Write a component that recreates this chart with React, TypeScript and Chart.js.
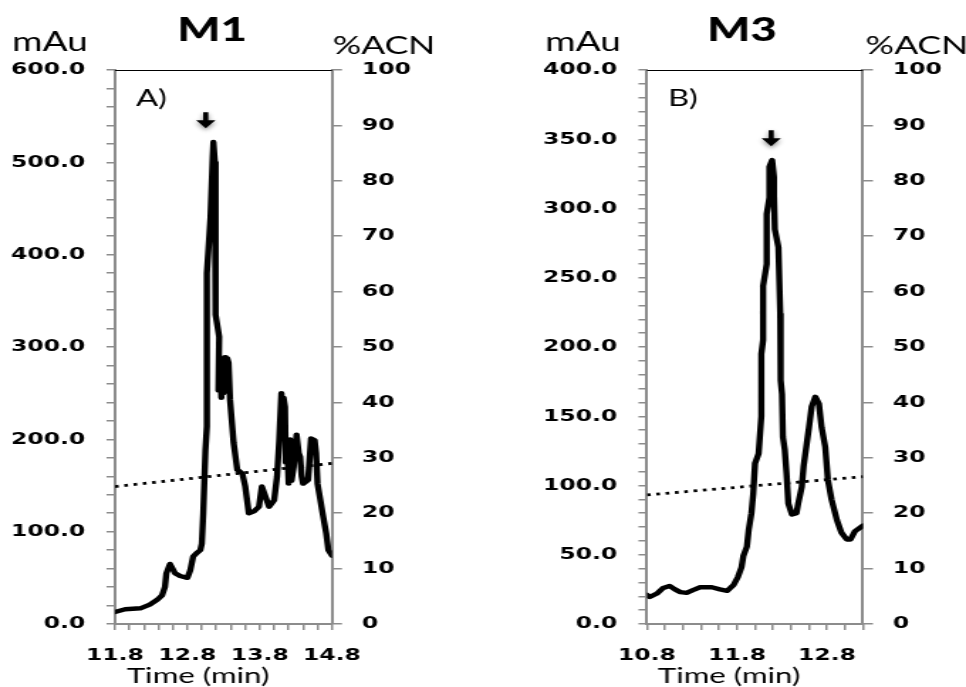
import React, { useEffect, useRef } from 'react';
import { Chart, registerables } from 'chart.js';

Chart.register(...registerables);

// ---------------- data: M1 ----------------
const m1Time = [
  11.8, 11.94, 12.15, 12.28, 12.38, 12.45, 12.49, 12.51, 12.56, 12.63, 12.7, 12.8, 12.84, 12.88, 12.93, 12.98,
  13.0, 13.02, 13.05, 13.07, 13.07, 13.12, 13.15, 13.16, 13.18, 13.19, 13.19, 13.24, 13.23, 13.26, 13.27, 13.29,
  13.3, 13.32, 13.33, 13.35, 13.37, 13.39, 13.44, 13.49, 13.56, 13.6, 13.65, 13.72, 13.79, 13.83, 13.88, 13.93,
  14.0, 14.04, 14.07, 14.1, 14.12, 14.13, 14.15, 14.16, 14.18, 14.2, 14.22, 14.24, 14.27, 14.31, 14.34, 14.36,
  14.38, 14.4, 14.47, 14.51, 14.56, 14.58, 14.6, 14.67, 14.72, 14.75, 14.8,
];
const m1Abs = [
  13, 16, 17, 21, 26, 31, 40, 55, 65, 55, 52, 50, 58, 73, 77, 80,
  87, 120, 188, 214, 380, 440, 505, 522, 500, 420, 335, 311, 253, 270, 245, 285,
  250, 289, 255, 288, 283, 243, 196, 167, 163, 149, 120, 122, 127, 149, 138, 127,
  134, 160, 199, 250, 220, 245, 235, 175, 195, 152, 200, 155, 170, 205, 185, 181,
  160, 152, 156, 201, 199, 185, 152, 120, 98, 80, 74,
];
const m1AcnTime = [11.8, 14.8];
const m1Acn = [24.8, 29.0];
const m1ArrowTime = [13.055];
const m1ArrowAbs = [537];
const m1XLabels = [11.8, 12.8, 13.8, 14.8];
const m1YLabels = [0, 100, 200, 300, 400, 500, 600];

// ---------------- data: M3 ----------------
const m3Time = [
  10.8, 10.83, 10.91, 10.98, 11.05, 11.11, 11.17, 11.24, 11.31, 11.39, 11.52, 11.61, 11.69, 11.76, 11.81, 11.85,
  11.87, 11.91, 11.93, 11.96, 11.98, 12.0, 12.04, 12.07, 12.07, 12.09, 12.09, 12.13, 12.13, 12.16, 12.16, 12.19,
  12.21, 12.21, 12.22, 12.26, 12.28, 12.28, 12.29, 12.3, 12.31, 12.33, 12.35, 12.37, 12.41, 12.46, 12.48, 12.52,
  12.54, 12.57, 12.6, 12.63, 12.67, 12.71, 12.74, 12.78, 12.81, 12.85, 12.91, 12.96, 13.02, 13.06, 13.11, 13.2,
];
const m3Abs = [
  21, 19.5, 22, 26, 27.5, 25, 23, 22.5, 24.5, 26.5, 26.5, 25, 24, 28, 34, 41,
  49, 56, 68, 80, 94, 116, 123, 150, 195, 205, 244, 260, 296, 308, 330, 335,
  323, 311, 285, 272, 224, 190, 176, 166, 135, 126, 109, 87, 79, 80, 87, 99,
  114, 128, 142, 157, 164, 159, 142, 128, 104, 90, 75, 66, 61, 61, 67, 71,
];
const m3AcnTime = [10.8, 13.2];
const m3Acn = [23.3, 26.6];
const m3ArrowTime = [12.18];
const m3ArrowAbs = [345];
const m3XLabels = [10.8, 11.8, 12.8];
const m3YLabels = [0, 50, 100, 150, 200, 250, 300, 350, 400];

const acnLabels = [0, 10, 20, 30, 40, 50, 60, 70, 80, 90, 100];

// ---------------- layout ----------------
const HALF_W = 483;
const H = 687;
const CANVAS_W = 340; // drawn narrower, then stretched horizontally like the original picture
const SX = HALF_W / CANVAS_W;
const FONT = 'Lato, "Open Sans", "DejaVu Sans", sans-serif';
const TICK_FONT = '"DejaVu Sans", Verdana, sans-serif';
const AXIS_GREY = '#8c8c8c';

type Panel = {
  key: string;
  title: string;
  tag: string;
  time: number[];
  abs: number[];
  acnTime: number[];
  acn: number[];
  arrowTime: number[];
  arrowAbs: number[];
  xLabels: number[];
  yLabels: number[];
  xMin: number;
  xMax: number;
  yMax: number;
  yStep: number;
  areaLeft: number;
  areaRight: number;
  txt: { mAu: number; title: number; acn: number; tag: number; time: number };
};

const panels: Panel[] = [
  {
    key: 'm1', title: 'M1', tag: 'A)',
    time: m1Time, abs: m1Abs, acnTime: m1AcnTime, acn: m1Acn,
    arrowTime: m1ArrowTime, arrowAbs: m1ArrowAbs,
    xLabels: m1XLabels, yLabels: m1YLabels,
    xMin: 11.8, xMax: 14.8, yMax: 600, yStep: 20,
    areaLeft: 115, areaRight: 332,
    txt: { mAu: 50, title: 212, acn: 384, tag: 136, time: 198 },
  },
  {
    key: 'm3', title: 'M3', tag: 'B)',
    time: m3Time, abs: m3Abs, acnTime: m3AcnTime, acn: m3Acn,
    arrowTime: m3ArrowTime, arrowAbs: m3ArrowAbs,
    xLabels: m3XLabels, yLabels: m3YLabels,
    xMin: 10.8, xMax: 13.2, yMax: 400, yStep: 10,
    areaLeft: 164, areaRight: 380,
    txt: { mAu: 100, title: 259, acn: 434, tag: 185, time: 246 },
  },
];

const near = (list: number[], v: number) => list.some((l) => Math.abs(l - v) < 1e-6);

function makeDecor(p: Panel) {
  return {
    id: 'decor_' + p.key,
    afterDatasetsDraw(chart: any) {
      const { ctx, chartArea, scales } = chart;
      ctx.save();
      ctx.strokeStyle = '#000';
      ctx.lineWidth = 1;
      ctx.beginPath();
      ctx.moveTo(chartArea.left, chartArea.top + 0.5);
      ctx.lineTo(chartArea.right, chartArea.top + 0.5);
      ctx.stroke();

      const ax = scales.x.getPixelForValue(p.arrowTime[0]);
      const ay = scales.y.getPixelForValue(p.arrowAbs[0]);
      ctx.shadowColor = 'rgba(0,0,0,0.45)';
      ctx.shadowBlur = 4;
      ctx.shadowOffsetY = 2;
      ctx.fillStyle = '#000';
      ctx.beginPath();
      ctx.moveTo(ax - 1.8, ay - 16);
      ctx.lineTo(ax + 1.8, ay - 16);
      ctx.lineTo(ax + 1.8, ay - 8);
      ctx.lineTo(ax + 6.8, ay - 8);
      ctx.lineTo(ax, ay);
      ctx.lineTo(ax - 6.8, ay - 8);
      ctx.lineTo(ax - 1.8, ay - 8);
      ctx.closePath();
      ctx.fill();
      ctx.restore();
    },
    afterDraw(chart: any) {
      const { ctx } = chart;
      ctx.save();
      ctx.fillStyle = '#000';
      ctx.textBaseline = 'alphabetic';
      ctx.textAlign = 'center';
      ctx.font = `400 26px ${FONT}`;
      ctx.fillText('mAu', p.txt.mAu / SX, 51);
      ctx.font = `400 25px ${FONT}`;
      ctx.fillText('%ACN', p.txt.acn / SX, 54);
      ctx.font = `900 32px ${FONT}`;
      ctx.fillText(p.title, p.txt.title / SX, 41);
      ctx.font = `400 22px ${FONT}`;
      ctx.fillText('Time (min)', p.txt.time / SX, 683);
      ctx.textAlign = 'left';
      ctx.font = `400 23px ${FONT}`;
      ctx.fillText(p.tag, p.txt.tag / SX, 106);
      ctx.restore();
    },
  };
}

function ChromPanel({ p, left }: { p: Panel; left: number }) {
  const ref = useRef<HTMLCanvasElement>(null);
  useEffect(() => {
    if (!ref.current) return;
    const yFont = { family: TICK_FONT, size: 16.5, weight: 'bold' as const };
    const xFont = { family: TICK_FONT, size: 16.5, weight: 'bold' as const };
    const chart = new Chart(ref.current, {
      type: 'line',
      data: {
        datasets: [
          {
            data: p.time.map((t, i) => ({ x: t, y: p.abs[i] })),
            yAxisID: 'y',
            borderColor: '#000',
            borderWidth: 4.4,
            pointRadius: 0,
            tension: 0,
            borderJoinStyle: 'round',
            borderCapStyle: 'round',
          },
          {
            data: p.acnTime.map((t, i) => ({ x: t, y: p.acn[i] })),
            yAxisID: 'y1',
            borderColor: '#000',
            borderWidth: 2.8,
            borderDash: [2.6, 4],
            pointRadius: 0,
          },
        ],
      },
      options: {
        animation: false,
        responsive: false,
        maintainAspectRatio: false,
        layout: { padding: { top: 70, left: 0, right: 0, bottom: 0 } },
        plugins: { legend: { display: false }, tooltip: { enabled: false }, title: { display: false } },
        scales: {
          x: {
            type: 'linear',
            position: 'bottom',
            min: p.xMin,
            max: p.xMax,
            afterFit: (s: any) => { s.height = H - 624; },
            ticks: {
              stepSize: 0.2,
              autoSkip: false,
              maxRotation: 0,
              padding: 16,
              color: '#000',
              font: xFont,
              callback: (v: any) => (near(p.xLabels, Number(v)) ? Number(v).toFixed(1) : ''),
            },
            grid: { drawOnChartArea: false, drawTicks: true, tickLength: 6, color: AXIS_GREY, lineWidth: 1.5 },
            border: { display: true, color: AXIS_GREY, width: 2 },
          },
          y: {
            type: 'linear',
            position: 'left',
            min: 0,
            max: p.yMax,
            afterFit: (s: any) => { s.width = p.areaLeft / SX; },
            ticks: {
              stepSize: p.yStep,
              autoSkip: false,
              padding: 15,
              color: '#000',
              font: yFont,
              callback: (v: any) => (near(p.yLabels, Number(v)) ? Number(v).toFixed(1) : ''),
            },
            grid: { drawOnChartArea: false, drawTicks: true, tickLength: 6, color: AXIS_GREY, lineWidth: 1.5 },
            border: { display: true, color: AXIS_GREY, width: 2 },
          },
          y1: {
            type: 'linear',
            position: 'right',
            min: 0,
            max: 100,
            afterFit: (s: any) => { s.width = CANVAS_W - p.areaRight / SX; },
            ticks: {
              stepSize: 10,
              autoSkip: false,
              padding: 14,
              color: '#000',
              font: yFont,
              callback: (v: any) => (near(acnLabels, Number(v)) ? String(v) : ''),
            },
            grid: { drawOnChartArea: false, drawTicks: true, tickLength: 7, color: AXIS_GREY, lineWidth: 1.5 },
            border: { display: true, color: AXIS_GREY, width: 2 },
          },
        },
      },
      plugins: [makeDecor(p)],
    } as any);
    return () => chart.destroy();
  }, [p]);
  return (
    <canvas
      ref={ref}
      width={CANVAS_W}
      height={H}
      style={{ position: 'absolute', left, top: 0, width: HALF_W, height: H }}
    />
  );
}

export default function App() {
  return (
    <div style={{ position: 'fixed', left: 0, top: 0, width: 966, height: H, background: '#fff', overflow: 'hidden' }}>
      <ChromPanel p={panels[0]} left={0} />
      <ChromPanel p={panels[1]} left={HALF_W} />
    </div>
  );
}
